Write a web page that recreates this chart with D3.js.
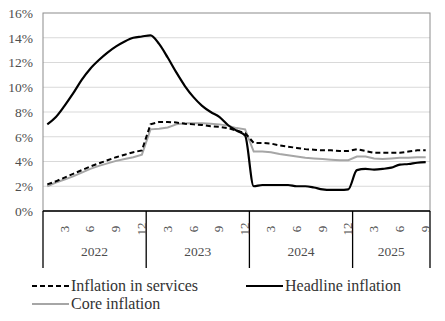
<!DOCTYPE html>
<html>
<head>
<meta charset="utf-8">
<script src="https://cdn.jsdelivr.net/npm/d3@7"></script>
<style>
  body { margin: 0; background: #fff; }
  svg { display: block; font-family: "Liberation Serif", "Times New Roman", serif; }
</style>
</head>
<body>
<div id="chart"></div>
<script>
// monthly data, Jan 2022 .. Sep 2025
var years = ["2022", "2023", "2024", "2025"];
var yTicks = [0, 2, 4, 6, 8, 10, 12, 14, 16];

var headline = [
  7.0, 7.6, 8.5, 9.5, 10.6, 11.5, 12.2, 12.8, 13.3, 13.7, 14.0, 14.1,
  14.2, 13.5, 12.4, 11.2, 10.1, 9.2, 8.5, 8.0, 7.6, 6.95, 6.5, 6.1,
  2.0, 2.1, 2.1, 2.1, 2.1, 2.0, 2.0, 1.9, 1.75, 1.7, 1.7, 1.75,
  3.3, 3.4, 3.35, 3.4, 3.5, 3.75, 3.8, 3.9, 3.95
];
var services = [
  2.15, 2.4, 2.7, 3.0, 3.3, 3.6, 3.85, 4.1, 4.35, 4.55, 4.75, 4.9,
  7.0, 7.2, 7.2, 7.15, 7.05, 7.0, 6.95, 6.85, 6.8, 6.7, 6.5, 6.3,
  5.5, 5.5, 5.45, 5.3, 5.2, 5.1, 5.0, 4.95, 4.9, 4.9, 4.85, 4.85,
  5.0, 4.85, 4.7, 4.7, 4.7, 4.7, 4.8, 4.9, 4.9
];
var core = [
  2.0, 2.3, 2.55, 2.8, 3.1, 3.4, 3.65, 3.85, 4.05, 4.2, 4.35, 4.55,
  6.6, 6.65, 6.75, 7.0, 7.1, 7.1, 7.1, 7.05, 7.0, 6.9, 6.7, 6.6,
  4.8, 4.8, 4.75, 4.6, 4.5, 4.4, 4.3, 4.25, 4.2, 4.15, 4.1, 4.1,
  4.4, 4.4, 4.25, 4.2, 4.25, 4.3, 4.3, 4.35, 4.35
];

var W = 445, H = 321;
var margin = {top: 13, right: 15, bottom: 110, left: 43};
var width = W - margin.left - margin.right,
    height = H - margin.top - margin.bottom;

var months = d3.range(headline.length);

var x = d3.scaleBand().domain(months).range([0, width]);
var y = d3.scaleLinear().domain([0, 16]).range([height, 0]);

var svg = d3.select("#chart").append("svg")
    .attr("width", W)
    .attr("height", H)
  .append("g")
    .attr("transform", "translate(" + margin.left + "," + margin.top + ")");

// grid
svg.selectAll(".grid")
    .data(yTicks.filter(d => d > 0 && d < 16))
  .enter().append("line")
    .attr("x1", 0).attr("x2", width)
    .attr("y1", d => y(d)).attr("y2", d => y(d))
    .attr("stroke", "#d9d9d9").attr("stroke-width", 1);

// plot border
svg.append("rect")
    .attr("x", 0).attr("y", 0)
    .attr("width", width).attr("height", height)
    .attr("fill", "none")
    .attr("stroke", "#8c8c8c").attr("stroke-width", 1);

// y axis labels
var yAxis = d3.axisLeft(y).tickValues(yTicks).tickSize(0).tickPadding(10)
    .tickFormat(d => d + "%");
svg.append("g").call(yAxis)
  .call(g => g.select(".domain").remove())
  .selectAll("text")
    .style("font-family", "Liberation Serif")
    .style("font-size", "13.5px")
    .attr("fill", "#4d4d4d");

// x axis: bottom line, year separators, month labels, year labels
var xg = svg.append("g").attr("transform", "translate(0," + height + ")");
xg.append("line")
    .attr("x1", 0).attr("x2", width)
    .attr("stroke", "#000").attr("stroke-width", 1.3);

var yearEdges = d3.range(years.length + 1).map(i => i * 12);
xg.selectAll(".sep")
    .data(yearEdges)
  .enter().append("line")
    .attr("x1", d => d < headline.length ? x(d) : width)
    .attr("x2", d => d < headline.length ? x(d) : width)
    .attr("y1", 0).attr("y2", 57)
    .attr("stroke", "#000").attr("stroke-width", 1.3);

xg.selectAll(".mlabel")
    .data(months.filter(i => (i % 12 + 1) % 3 === 0))
  .enter().append("text")
    .attr("transform", d => "translate(" + (x(d) + x.bandwidth() / 2 + 4) + ",18) rotate(-90)")
    .attr("text-anchor", "middle")
    .style("font-size", "13px")
    .attr("fill", "#4d4d4d")
    .text(d => d % 12 + 1);

xg.selectAll(".ylabel")
    .data(years)
  .enter().append("text")
    .attr("x", (d, i) => {
      var a = x(i * 12), b = i * 12 + 12 <= headline.length ? x(i * 12 + 11) + x.bandwidth() : width;
      return (a + b) / 2;
    })
    .attr("y", 45)
    .attr("text-anchor", "middle")
    .style("font-size", "13.5px")
    .attr("fill", "#4d4d4d")
    .text(d => d);

// lines
var cx = i => x(i) + x.bandwidth() / 2;
var straight = d3.line().x((d, i) => cx(i)).y(d => y(d));
var smooth = d3.line().curve(d3.curveMonotoneX).x((d, i) => cx(i)).y(d => y(d));

svg.append("path")
    .attr("d", straight(core))
    .attr("fill", "none").attr("stroke", "#a6a6a6").attr("stroke-width", 2);

svg.append("path")
    .attr("d", straight(services))
    .attr("fill", "none").attr("stroke", "#000").attr("stroke-width", 2)
    .attr("stroke-dasharray", "5,3");

svg.append("path")
    .attr("d", smooth(headline))
    .attr("fill", "none").attr("stroke", "#000").attr("stroke-width", 2.2);

// legend
var legendItems = [
  {name: "Inflation in services", x: 32, y: 286, color: "#000", dash: "5,3"},
  {name: "Headline inflation", x: 246, y: 286, color: "#000", dash: null},
  {name: "Core inflation", x: 32, y: 304, color: "#a6a6a6", dash: null}
];
var legend = d3.select("svg").selectAll(".legend")
    .data(legendItems)
  .enter().append("g")
    .attr("transform", d => "translate(" + d.x + "," + d.y + ")");
legend.append("line")
    .attr("x1", 0).attr("x2", 37)
    .attr("stroke", d => d.color).attr("stroke-width", 2.2)
    .attr("stroke-dasharray", d => d.dash);
legend.append("text")
    .attr("x", 39).attr("y", 5)
    .style("font-size", "16px")
    .attr("fill", "#333")
    .text(d => d.name);
</script>
</body>
</html>
